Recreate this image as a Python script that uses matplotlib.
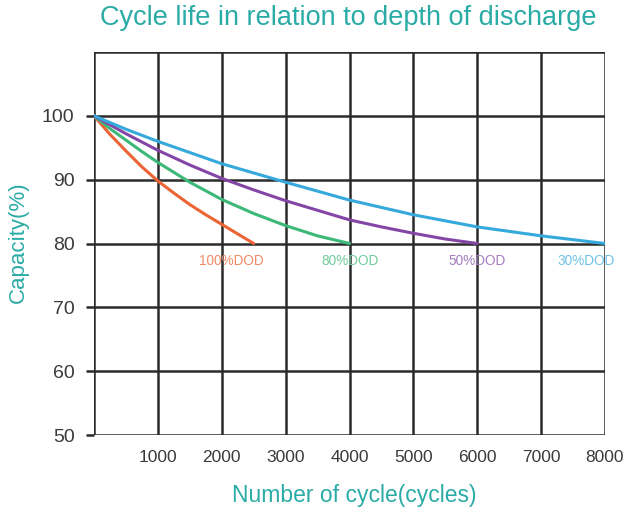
import matplotlib.pyplot as plt

# cycles vs remaining capacity
cycles_100 = [0, 250, 500, 750, 1000, 1250, 1500, 1750, 2000, 2250, 2500]
cap_100 = [100, 97.1, 94.5, 92.0, 89.8, 87.9, 86.1, 84.5, 83.0, 81.5, 80]

cycles_80 = [0, 250, 500, 750, 1000, 1500, 2000, 2500, 3000, 3500, 4000]
cap_80 = [100, 98.0, 96.2, 94.4, 92.7, 89.6, 86.9, 84.7, 82.8, 81.2, 80]

cycles_50 = [0, 500, 1000, 1500, 2000, 2500, 3000, 3500, 4000, 4500, 5000, 5500, 6000]
cap_50 = [100, 97.2, 94.6, 92.3, 90.2, 88.4, 86.7, 85.2, 83.7, 82.6, 81.6, 80.7, 80]

cycles_30 = [0, 500, 1000, 2000, 3000, 4000, 5000, 6000, 7000, 8000]
cap_30 = [100, 97.9, 96.0, 92.5, 89.6, 86.8, 84.5, 82.6, 81.2, 80]

labels = ['100%DOD', '80%DOD', '50%DOD', '30%DOD']
label_x = [2150, 4000, 6000, 7700]
colors = ['#ec6435', '#3cb878', '#8446a6', '#35a9dc']
label_colors = ['#f08a66', '#72cc9c', '#a57cc0', '#6fc2e6']

x_ticks = [1000, 2000, 3000, 4000, 5000, 6000, 7000, 8000]
y_ticks = [50, 60, 70, 80, 90, 100]

teal = '#2aaba6'
grid_c = '#2b2b2b'

plt.rcParams['font.family'] = ['Liberation Sans', 'DejaVu Sans']

fig = plt.figure(figsize=(6.24, 5.11), dpi=100)
ax = fig.add_axes([94 / 624, 76 / 511, 511 / 624, 383 / 511])

ax.set_xlim(0, 8000)
ax.set_ylim(50, 110)

# grid: vertical lines and horizontal lines
for x in [0] + x_ticks:
    ax.axvline(x, color=grid_c, lw=1.8, zorder=1)
for y in y_ticks + [110]:
    ax.axhline(y, color=grid_c, lw=1.8, zorder=1)

for s in ax.spines.values():
    s.set_visible(False)

ax.set_xticks(x_ticks)
ax.set_yticks(y_ticks)
ax.tick_params(axis='x', length=0, pad=11, labelsize=12.5, labelcolor='#3a3a3a')
ax.tick_params(axis='y', length=6, width=1.8, color=grid_c, pad=8,
               labelsize=14, labelcolor='#3a3a3a')

series = [(cycles_100, cap_100), (cycles_80, cap_80),
          (cycles_50, cap_50), (cycles_30, cap_30)]
for (xs, ys), c in zip(series, colors):
    ax.plot(xs, ys, color=c, lw=2.2, zorder=3, solid_capstyle='round')

for lab, lx, lc in zip(labels, label_x, label_colors):
    ax.text(lx, 77.3, lab, color=lc, fontsize=9.8, ha='center', va='center', zorder=4)

fig.text(0.558, 0.965, 'Cycle life in relation to depth of discharge',
         color=teal, fontsize=19.5, ha='center', va='center')
fig.text(0.567, 0.031, 'Number of cycle(cycles)', color=teal, fontsize=16.5,
         ha='center', va='center')
fig.text(0.029, 0.526, 'Capacity(%)', color=teal, fontsize=16, rotation=90,
         ha='center', va='center')

fig.savefig('out.png', dpi=100)
